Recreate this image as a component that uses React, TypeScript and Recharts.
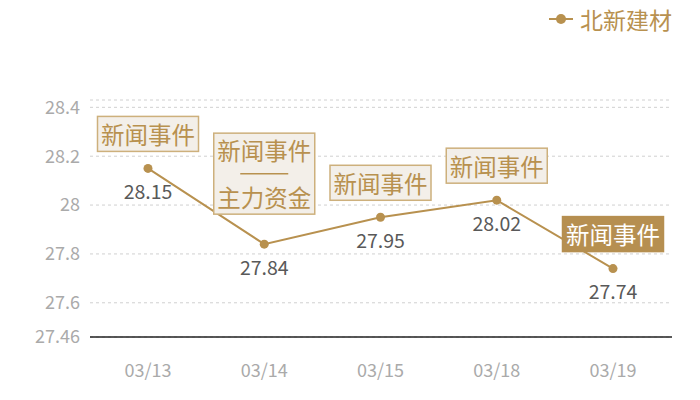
import React from 'react';
import { LineChart, Line, XAxis, YAxis, CartesianGrid, LabelList } from 'recharts';

const categories = ['03/13', '03/14', '03/15', '03/18', '03/19'];
const prices = [28.15, 27.84, 27.95, 28.02, 27.74];
const eventLines: string[][] = [
  ['新闻事件'],
  ['新闻事件', '——', '主力资金'],
  ['新闻事件'],
  ['新闻事件'],
  ['新闻事件'],
];
const eventHighlighted = [false, false, false, false, true];
const yTicks = [27.46, 27.6, 27.8, 28, 28.2, 28.4, 28.43];
const yDomain: [number, number] = [27.46, 28.43];
const seriesName = '北新建材';

const GOLD = '#b8914f';
const FONT = '"Noto Sans CJK SC", "Noto Sans", sans-serif';

const data = categories.map((c, i) => ({ date: c, price: prices[i], idx: i }));

const ValueLabel = (props: any) => {
  const { x, y, value } = props;
  return (
    <text x={x} y={y + 22} textAnchor="middle" dominantBaseline="central" fill="#595959" fontSize={19.5} fontFamily={FONT}>
      {value}
    </text>
  );
};

const EventLabel = (props: any) => {
  const { x, y, index } = props;
  const lines = eventLines[index] || [];
  const hl = eventHighlighted[index];
  const lineH = 23;
  const w = 101;
  const h = lines.length === 1 ? 35 : 12 + lines.length * lineH;
  const gap = lines.length === 1 ? 17 : 30;
  const bottom = y - gap;
  const top = bottom - h;
  return (
    <g>
      <rect x={x - w / 2} y={top} width={w} height={h} fill={hl ? '#b68f50' : '#f3efe9'} stroke={hl ? '#b68f50' : '#cdb07c'} strokeWidth={1.5} />
      {lines.map((t, i) => {
        const cy = top + h / 2 + (i - (lines.length - 1) / 2) * (lines.length === 1 ? 0 : 23.5);
        if (t === '——') {
          return <line key={i} x1={x - 24} x2={x + 24} y1={cy} y2={cy} stroke={GOLD} strokeWidth={1.5} />;
        }
        return (
          <text key={i} x={x} y={cy} textAnchor="middle" dominantBaseline="central" fill={hl ? '#ffffff' : GOLD} fontSize={23.5} fontFamily={FONT}>
            {t}
          </text>
        );
      })}
    </g>
  );
};

export default function App() {
  return (
    <div style={{ position: 'absolute', left: 0, top: 0, width: 700, height: 400, fontFamily: FONT }}>
      <LineChart width={700} height={400} data={data} margin={{ top: 100, right: 28, bottom: 0, left: 0 }}>
        <CartesianGrid vertical={false} stroke="#d0d0d0" strokeDasharray="3 3" />
        <XAxis
          dataKey="date"
          axisLine={{ stroke: '#222', strokeWidth: 1.4 }}
          tickLine={false}
          tickSize={0}
          tickMargin={27}
          height={63}
          padding={{ left: 58, right: 59 }}
          tick={{ fill: '#aaaaaa', fontSize: 18, fontFamily: FONT }}
        />
        <YAxis
          domain={yDomain}
          ticks={yTicks}
          type="number"
          allowDataOverflow
          axisLine={false}
          tickLine={false}
          tickSize={0}
          tickMargin={10}
          width={90}
          interval={0}
          tickFormatter={(v: number) => (v === yDomain[1] ? '' : String(v))}
          tick={{ fill: '#aaaaaa', fontSize: 18, fontFamily: FONT }}
        />
        <Line
          type="linear"
          dataKey="price"
          name={seriesName}
          stroke={GOLD}
          strokeWidth={2}
          dot={{ r: 4.5, fill: GOLD, stroke: GOLD, strokeWidth: 0 }}
          activeDot={false}
          isAnimationActive={false}
        >
          <LabelList dataKey="price" content={ValueLabel} />
          <LabelList dataKey="idx" content={EventLabel} />
        </Line>
      </LineChart>
      <div style={{ position: 'absolute', left: 547, top: 4, display: 'flex', alignItems: 'center', height: 30 }}>
        <svg width={28} height={20} style={{ marginRight: 5 }}>
          <line x1={2} x2={26} y1={10} y2={10} stroke={GOLD} strokeWidth={2} />
          <circle cx={14} cy={10} r={5} fill={GOLD} />
        </svg>
        <span style={{ color: GOLD, fontSize: 23, lineHeight: '30px', fontFamily: FONT }}>{seriesName}</span>
      </div>
    </div>
  );
}
